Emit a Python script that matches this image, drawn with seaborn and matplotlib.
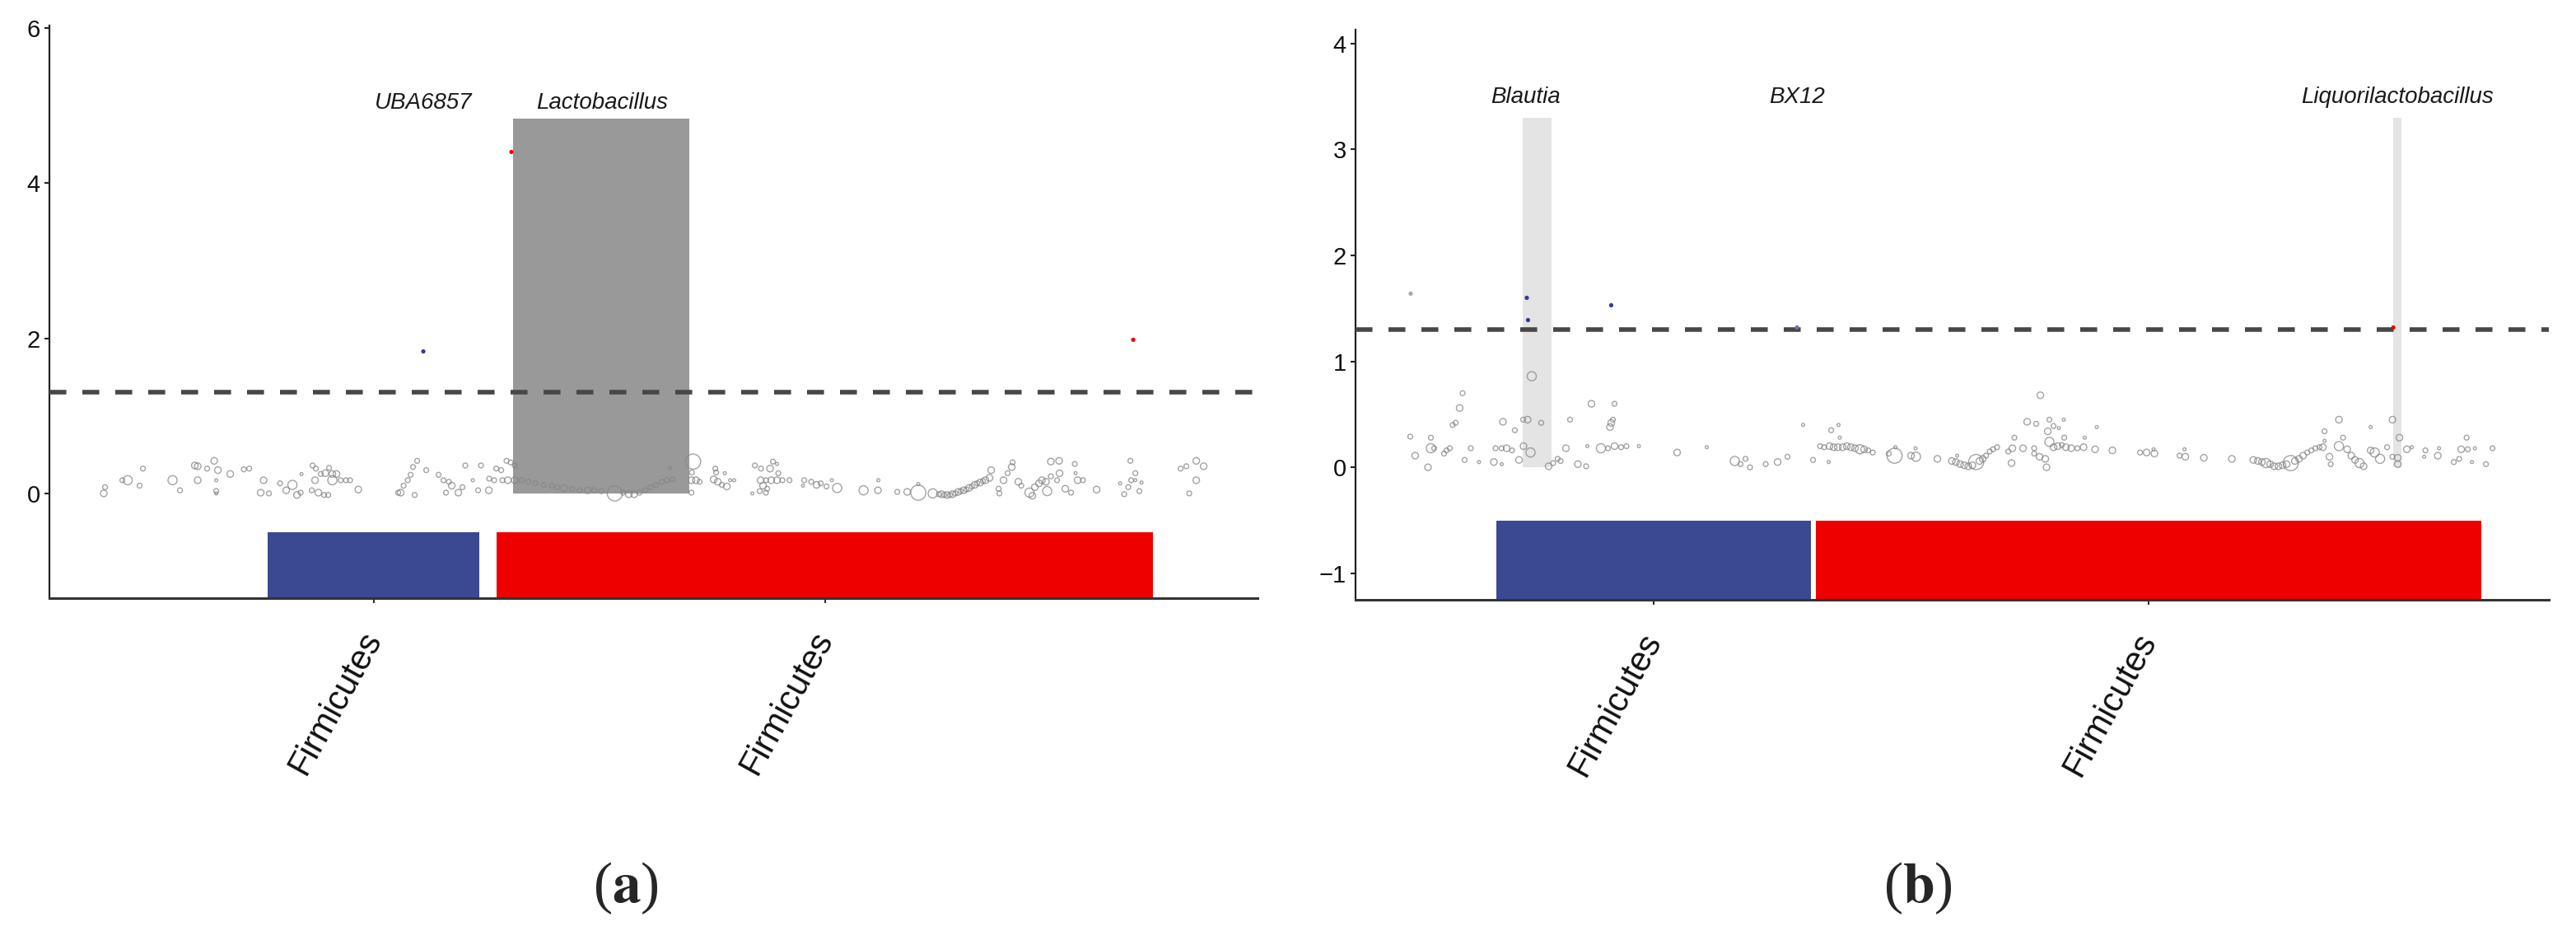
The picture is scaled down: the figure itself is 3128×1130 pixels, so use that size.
import numpy as np
import pandas as pd
import matplotlib
matplotlib.use("Agg")
import matplotlib.pyplot as plt
import seaborn as sns

sns.set_style("ticks")
plt.rcParams["font.family"] = ["Liberation Sans", "DejaVu Sans"]
plt.rcParams["mathtext.fontset"] = "stix"

THRESH = -np.log10(0.05)

# ---------------- panel (a) ----------------
# background genera: position along the taxonomy, -log10(p), point size class
a_pos = [
    13.2, 13.5, 17.7, 19.0, 21.9, 22.7, 29.9, 31.7, 35.3, 36.0,
    36.0, 38.3, 40.0, 40.9, 40.5, 40.5, 40.5, 43.9, 47.2, 48.5,
    52.0, 51.3, 53.3, 56.0, 57.5, 59.0, 60.1, 61.0, 61.2, 63.9,
    64.7, 64.5, 65.9, 67.0, 67.9, 68.7, 69.7, 68.7, 70.7, 72.0,
    73.0, 63.7, 65.3, 66.7, 67.7, 75.0, 85.3, 84.7, 86.0, 87.0,
    87.7, 88.3, 89.3, 88.7, 91.5, 94.5, 95.7, 97.0, 97.7, 96.3,
    99.3, 100.3, 101.0,
    102.8, 104.8, 104.1, 106.7, 106.8, 108.5, 109.7, 108.0, 110.0, 111.0,
    112.0, 113.0, 111.3, 113.0, 114.7, 116.3, 118.0, 120.0, 122.0, 123.3,
    125.0, 127.0, 128.7, 130.7, 132.3, 134.0, 137.3, 139.3, 140.7, 142.0,
    143.3, 144.7, 146.0, 147.3, 148.7, 150.0, 151.3, 150.7, 156.3, 156.0,
    155.9, 157.0, 157.9, 155.9, 161.7, 161.9, 164.0, 161.3, 162.3, 163.3,
    164.5, 165.3, 166.3, 171.3, 172.8, 175.0, 175.7, 176.7, 177.0, 172.7,
    174.0, 175.3, 176.7, 178.0, 179.7, 173.3, 174.3, 174.0, 170.7, 172.5,
    183.3, 185.0, 186.3, 187.3, 183.0, 188.7, 190.0, 191.3,
    197.7, 201.2, 201.3, 205.9, 208.3, 211.0, 211.0, 214.5,
    216.0, 216.7, 217.3, 218.0, 218.7, 219.3, 220.0, 220.7, 221.3, 222.0,
    222.7, 223.3, 224.0, 224.7, 225.3, 226.0, 226.7, 227.3,
    228.7, 228.3, 230.5, 230.7, 231.7, 232.7, 233.7, 233.9, 235.3, 236.0,
    238.0, 238.7, 239.3, 240.3, 241.0, 242.0, 242.3, 243.2, 245.2, 243.2,
    245.3, 244.7, 246.7, 248.1, 249.0, 249.2, 249.7, 251.0, 254.3, 260.0,
    262.5, 263.7, 262.7, 263.7, 265.2, 262.0, 261.0, 264.7, 274.7, 276.1,
    278.5, 280.3, 278.5, 276.8,
]
a_logp = [
    0.00, 0.08, 0.17, 0.17, 0.10, 0.32, 0.17, 0.04, 0.36, 0.35,
    0.17, 0.32, 0.42, 0.30, 0.17, 0.03, 0.00, 0.25, 0.31, 0.32,
    0.17, 0.01, 0.00, 0.13, 0.04, 0.11, -0.02, 0.01, 0.25, 0.36,
    0.32, 0.17, 0.25, 0.26, 0.33, 0.25, 0.25, 0.17, 0.17, 0.17,
    0.17, 0.04, 0.01, -0.02, -0.02, 0.05, 0.01, 0.01, 0.10, 0.17,
    0.24, 0.34, 0.42, -0.02, 0.30, 0.24, 0.17, 0.15, 0.10, 0.01,
    0.01, 0.08, 0.36,
    0.17, 0.36, 0.04, 0.04, 0.19, 0.32, 0.30, 0.17, 0.17, 0.42,
    0.40, 0.36, 0.17, 0.17, 0.17, 0.15, 0.13, 0.11, 0.10, 0.08,
    0.07, 0.06, 0.04, 0.04, 0.04, 0.03, 0.00, 0.01, -0.01, -0.01,
    0.01, 0.04, 0.08, 0.11, 0.15, 0.17, 0.18, 0.33, 0.41, 0.27,
    0.17, 0.17, 0.15, 0.01, 0.32, 0.27, 0.26, 0.18, 0.15, 0.11,
    0.09, 0.17, 0.17, 0.36, 0.32, 0.32, 0.41, 0.38, 0.26, 0.17,
    0.17, 0.17, 0.17, 0.17, 0.17, 0.10, 0.06, 0.01, 0.00, 0.03,
    0.17, 0.15, 0.11, 0.13, 0.10, 0.09, 0.17, 0.07,
    0.04, 0.04, 0.17, 0.02, 0.02, 0.01, 0.12, 0.00,
    -0.01, -0.01, -0.02, -0.02, -0.02, -0.01, 0.00, 0.02, 0.03, 0.04,
    0.05, 0.07, 0.09, 0.11, 0.13, 0.14, 0.16, 0.17,
    0.30, 0.20, 0.06, 0.00, 0.17, 0.26, 0.34, 0.40, 0.15, 0.10,
    0.01, -0.03, 0.08, 0.13, 0.17, 0.15, 0.03, 0.41, 0.42, 0.22,
    0.26, 0.17, 0.06, 0.01, 0.38, 0.26, 0.17, 0.17, 0.05, 0.13,
    0.42, 0.26, 0.17, 0.17, 0.14, 0.08, -0.01, 0.03, 0.32, 0.35,
    0.42, 0.35, 0.17, 0.00,
]
a_size = [
    3, 2, 2, 4, 2, 2, 4, 2, 3, 3,
    3, 2, 3, 3, 1, 2, 1, 3, 2, 2,
    3, 3, 2, 2, 3, 4, 3, 2, 1, 2,
    2, 3, 2, 3, 2, 3, 3, 4, 2, 2,
    2, 2, 3, 2, 2, 3, 3, 2, 2, 2,
    2, 2, 2, 2, 2, 2, 2, 2, 3, 2,
    3, 2, 2,
    1, 2, 2, 3, 2, 2, 2, 2, 2, 2,
    2, 2, 3, 3, 2, 2, 2, 2, 2, 2,
    3, 2, 2, 3, 2, 2, 5, 2, 3, 3,
    2, 2, 2, 2, 2, 2, 2, 1, 5, 2,
    3, 3, 2, 2, 2, 2, 1, 3, 3, 2,
    3, 1, 1, 2, 2, 3, 2, 1, 2, 3,
    2, 3, 3, 2, 2, 3, 2, 2, 1, 2,
    2, 2, 3, 2, 1, 2, 1, 4,
    4, 3, 1, 2, 3, 5, 1, 4,
    2, 3, 2, 3, 2, 3, 2, 3, 2, 3,
    2, 3, 2, 3, 2, 3, 2, 3,
    3, 3, 2, 2, 3, 2, 3, 2, 3, 2,
    4, 3, 3, 3, 3, 3, 4, 3, 3, 2,
    3, 2, 3, 2, 2, 1, 3, 2, 3, 1,
    2, 2, 2, 1, 1, 2, 2, 2, 2, 2,
    3, 3, 3, 2,
]
# significant genera
a_sig_pos = [90.8, 112.2, 263.2]
a_sig_logp = [1.83, 4.40, 1.98]
a_sig_dir = ["down", "up", "up"]
a_genus = ["UBA6857", "Lactobacillus"]
a_genus_pos = [90.8, 134.2]
a_label_y = 5.03
# highlighted genus band
a_hl_start = [112.6]
a_hl_end = [155.4]
a_hl_top = [4.83]
a_hl_color = "#999999"
# phylum strip
a_phylum = ["Firmicutes", "Firmicutes"]
a_phy_start = [53.0, 108.6]
a_phy_end = [104.4, 268.0]
a_xlim = (0, 293.4)
a_ylim = (-1.35, 6.03)
a_yticks = [0, 2, 4, 6]

# ---------------- panel (b) ----------------
b_pos = [
    13.3, 14.5, 17.6, 18.3, 18.3, 19.1, 21.5, 22.1, 22.9, 23.6,
    24.3, 25.3, 26.0, 26.5, 28.0, 30.0, 33.6, 35.5, 34.0, 35.5,
    36.7, 38.0, 35.8, 38.7, 39.7, 40.8, 40.7, 41.8, 42.8, 42.5,
    45.1, 46.9, 48.0, 49.1, 49.8, 51.1, 52.1, 54.0, 56.0, 56.3,
    57.3, 59.6, 61.3, 62.9, 64.5, 65.8, 68.8, 62.9, 62.5, 62.1,
    61.8, 78.1, 85.3, 92.1, 93.5, 94.7, 95.8, 99.6,
    102.5, 104.9, 108.7, 111.1, 114.9, 115.5, 117.3, 117.6, 112.8, 113.8,
    115.1, 116.1, 117.1, 118.3, 119.3, 120.3, 121.3, 122.5, 123.5, 124.5,
    125.6, 129.5, 130.9, 131.1, 134.9, 136.1, 136.0, 141.3, 144.8, 145.8,
    146.8, 147.8, 148.8, 149.8, 150.7, 151.5, 152.3, 153.1, 154.0, 154.8,
    155.8, 146.1, 158.5, 159.5, 160.0, 159.3, 162.1, 163.1, 165.3, 166.3,
    164.8, 164.8, 166.1, 167.5, 167.8, 168.5, 168.1, 169.5, 170.8, 172.0,
    168.5, 169.5, 170.5, 171.5, 172.1, 172.5, 173.8, 175.3, 176.8, 177.1,
    179.6, 180.0, 183.8, 190.5, 192.1,
    194.0, 193.8, 200.1, 201.5, 201.3, 206.0, 212.8, 218.0, 219.1, 220.1,
    221.1, 222.1, 223.1, 224.1, 225.1, 226.1, 227.1, 228.1, 229.1, 230.1,
    231.1, 232.1, 233.1, 234.1, 234.9, 235.3, 235.3, 236.5, 236.8, 238.8,
    239.8, 238.8, 240.8, 241.8, 242.7, 243.8, 244.8, 246.5, 246.5, 247.5,
    248.8, 250.5, 251.8, 251.8, 253.5, 253.1, 253.1, 255.3, 256.5, 259.8,
    259.5, 262.8, 263.1, 266.7, 268.0, 268.5, 269.8, 270.1, 271.8, 271.1,
    274.5, 276.1,
]
b_logp = [
    0.29, 0.11, 0.00, 0.28, 0.18, 0.18, 0.13, 0.16, 0.18, 0.40,
    0.42, 0.56, 0.70, 0.07, 0.18, 0.05, 0.05, 0.03, 0.18, 0.18,
    0.18, 0.16, 0.43, 0.35, 0.07, 0.20, 0.45, 0.45, 0.86, 0.14,
    0.42, 0.01, 0.04, 0.08, 0.06, 0.18, 0.45, 0.03, 0.01, 0.20,
    0.60, 0.18, 0.18, 0.20, 0.19, 0.20, 0.20, 0.60, 0.45, 0.42,
    0.38, 0.14, 0.19, 0.06, 0.03, 0.08, 0.00, 0.03,
    0.05, 0.10, 0.40, 0.07, 0.05, 0.35, 0.40, 0.28, 0.20, 0.19,
    0.20, 0.19, 0.19, 0.19, 0.20, 0.19, 0.18, 0.17, 0.17, 0.16,
    0.14, 0.13, 0.11, 0.19, 0.11, 0.10, 0.18, 0.08, 0.06, 0.05,
    0.03, 0.02, 0.01, 0.02, 0.05, 0.06, 0.08, 0.11, 0.15, 0.17,
    0.19, 0.11, 0.15, 0.18, 0.28, 0.04, 0.18, 0.43, 0.41, 0.68,
    0.18, 0.13, 0.10, 0.08, 0.00, 0.45, 0.34, 0.39, 0.37, 0.45,
    0.24, 0.19, 0.20, 0.21, 0.28, 0.19, 0.18, 0.18, 0.19, 0.28,
    0.17, 0.38, 0.16, 0.14, 0.14,
    0.13, 0.17, 0.11, 0.10, 0.17, 0.09, 0.08, 0.07, 0.06, 0.05,
    0.04, 0.03, 0.01, 0.01, 0.02, 0.03, 0.04, 0.06, 0.08, 0.11,
    0.14, 0.16, 0.18, 0.19, 0.19, 0.34, 0.25, 0.10, 0.03, 0.45,
    0.28, 0.20, 0.17, 0.11, 0.07, 0.04, 0.01, 0.38, 0.16, 0.14,
    0.08, 0.19, 0.45, 0.10, 0.28, 0.09, 0.03, 0.17, 0.19, 0.16,
    0.10, 0.11, 0.18, 0.05, 0.08, 0.17, 0.28, 0.17, 0.18, 0.05,
    0.03, 0.18,
]
b_size = [
    2, 3, 3, 2, 4, 2, 2, 2, 2, 2,
    2, 3, 2, 2, 2, 1, 3, 1, 2, 2,
    3, 2, 3, 2, 3, 3, 2, 3, 4, 4,
    2, 3, 2, 2, 2, 3, 2, 3, 2, 1,
    3, 4, 2, 3, 2, 2, 1, 2, 2, 3,
    3, 3, 1, 4, 2, 2, 2, 2,
    3, 2, 1, 2, 1, 2, 1, 1, 2, 2,
    3, 3, 3, 3, 3, 3, 3, 4, 3, 2,
    2, 2, 5, 1, 3, 4, 1, 3, 3, 3,
    3, 3, 3, 3, 5, 3, 3, 2, 2, 2,
    2, 1, 2, 3, 2, 3, 3, 3, 2, 3,
    2, 2, 3, 3, 3, 2, 3, 2, 1, 1,
    4, 3, 3, 2, 2, 3, 3, 2, 3, 1,
    3, 1, 3, 2, 3,
    3, 1, 2, 3, 1, 3, 3, 3, 3, 3,
    4, 3, 3, 3, 3, 3, 5, 3, 3, 3,
    2, 2, 2, 2, 3, 2, 1, 3, 2, 3,
    2, 4, 3, 3, 3, 4, 3, 1, 3, 4,
    4, 2, 3, 2, 3, 3, 3, 3, 1, 2,
    1, 3, 1, 2, 2, 3, 2, 2, 1, 1,
    2, 2,
]
b_sig_pos = [13.4, 41.6, 41.9, 62.1, 107.2, 252.0]
b_sig_logp = [1.64, 1.60, 1.39, 1.53, 1.32, 1.32]
b_sig_dir = ["ns", "down", "down", "down", "weak", "up"]
b_genus = ["Blautia", "BX12", "Liquorilactobacillus"]
b_genus_pos = [41.2, 107.2, 253.0]
b_label_y = 3.49
b_hl_start = [40.6, 252.0]
b_hl_end = [47.6, 254.0]
b_hl_top = [3.30, 3.30]
b_hl_color = "#e4e4e4"
b_phylum = ["Firmicutes", "Firmicutes"]
b_phy_start = [34.2, 111.7]
b_phy_end = [110.6, 273.3]
b_xlim = (0, 289.8)
b_ylim = (-1.25, 4.13)
b_yticks = [-1, 0, 1, 2, 3, 4]

SIZES = {1: 7, 2: 18, 3: 33, 4: 64, 5: 175}
DIR_COLORS = {"down": "#2f3d8f", "up": "#EE0000", "ns": "#a8a8a8", "weak": "#6a74a8"}
PHY_COLORS = ["#3B4992", "#EE0000"]


def draw_panel(ax, pos, logp, size, sig_pos, sig_logp, sig_dir, genus, genus_pos,
               label_y, hl_start, hl_end, hl_top, hl_color, phylum, phy_start,
               phy_end, xlim, ylim, yticks):
    # highlighted genus bands
    ax.bar(hl_start, hl_top, width=np.subtract(hl_end, hl_start), align="edge",
           color=hl_color, linewidth=0, zorder=1)

    # phylum strip below zero
    ax.bar(phy_start, ylim[0] + 0.5, bottom=-0.5,
           width=np.subtract(phy_end, phy_start), align="edge",
           color=PHY_COLORS, linewidth=0, zorder=2)

    df = pd.DataFrame({"pos": pos, "logp": logp, "size": size})
    sns.scatterplot(data=df, x="pos", y="logp", size="size", sizes=SIZES,
                    facecolors="none", edgecolor="#858585", linewidth=1.0,
                    alpha=0.75, legend=False, ax=ax, zorder=2)

    ax.axhline(THRESH, color="#474747", lw=4, dashes=(3.7, 3.5), zorder=3)

    sns.scatterplot(x=sig_pos, y=sig_logp, hue=sig_dir, palette=DIR_COLORS,
                    s=14, linewidth=0, legend=False, ax=ax, zorder=4)

    for name, x in zip(genus, genus_pos):
        ax.text(x, label_y, name, style="italic", ha="center", va="center",
                fontsize=20, color="#1a1a1a")

    ax.set_xlim(*xlim)
    ax.set_ylim(*ylim)
    ax.set_yticks(yticks)
    centers = (np.array(phy_start) + np.array(phy_end)) / 2
    ax.set_xticks(centers)
    ax.set_xticklabels(phylum, rotation=61, ha="right", va="center",
                       rotation_mode="anchor", fontsize=30, color="#111111")
    ax.set_xlabel("")
    ax.set_ylabel("")
    sns.despine(ax=ax)
    ax.spines["left"].set_linewidth(1.6)
    ax.spines["bottom"].set_linewidth(2.2)
    ax.spines["left"].set_color("#222222")
    ax.spines["bottom"].set_color("#333333")
    ax.tick_params(axis="y", labelsize=21, length=4, width=1.5, pad=4,
                   labelcolor="#111111", color="#222222")
    ax.tick_params(axis="x", length=4, width=1.5, pad=27, color="#333333")


fig = plt.figure(figsize=(31.28, 11.3), dpi=100)
ax_a = fig.add_axes([0.0192, 0.3575, 0.469, 0.6151])
ax_b = fig.add_axes([0.5262, 0.3558, 0.4633, 0.6122])

draw_panel(ax_a, a_pos, a_logp, a_size, a_sig_pos, a_sig_logp, a_sig_dir,
           a_genus, a_genus_pos, a_label_y, a_hl_start, a_hl_end, a_hl_top,
           a_hl_color, a_phylum, a_phy_start, a_phy_end, a_xlim, a_ylim, a_yticks)
draw_panel(ax_b, b_pos, b_logp, b_size, b_sig_pos, b_sig_logp, b_sig_dir,
           b_genus, b_genus_pos, b_label_y, b_hl_start, b_hl_end, b_hl_top,
           b_hl_color, b_phylum, b_phy_start, b_phy_end, b_xlim, b_ylim, b_yticks)

fig.text(0.2430, 0.046, r"($\mathbf{a}$)", ha="center", va="center",
         fontsize=50, family="Liberation Serif")
fig.text(0.7445, 0.046, r"($\mathbf{b}$)", ha="center", va="center",
         fontsize=50, family="Liberation Serif")

fig.savefig("out.png", dpi=100, facecolor="white")
